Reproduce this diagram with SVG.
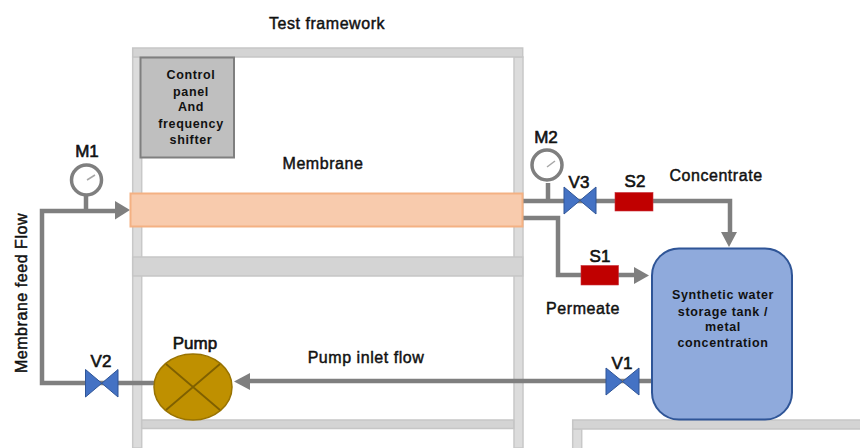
<svg xmlns="http://www.w3.org/2000/svg" width="860" height="448" viewBox="0 0 860 448">
<style>
text{font-family:"Liberation Sans",Arial,sans-serif;fill:#111;text-anchor:middle}
.lb{font-size:16px;letter-spacing:.55px;stroke:#111;stroke-width:.45px}
.tag{font-size:17px;stroke:#111;stroke-width:.6px}
.sm{font-size:12.500px;font-weight:bold;letter-spacing:.65px}
.fv{fill:#dcdcdc;stroke:#c8c8c8;stroke-width:1.5}
.fh{fill:#d4d4d4;stroke:#c6c6c6;stroke-width:1.5}
.pipe{fill:none;stroke:#7f7f7f;stroke-width:4.5}
.head{fill:#7f7f7f}
.valve{fill:#4472c4;stroke:#2f5597;stroke-width:1}
.sensor{fill:#c00000;stroke:#c8303a;stroke-width:.6}
.gauge{fill:#fff;stroke:#7f7f7f;stroke-width:3.500}
</style>
<g id="framework">
<rect class="fv" x="132.700" y="57" width="9" height="391"/>
<rect class="fv" x="514" y="57" width="9" height="391"/>
<rect class="fh" x="132.700" y="48" width="390" height="9"/>
<rect class="fh" x="132.700" y="257" width="390" height="19"/>
<rect class="fh" x="141.700" y="420" width="372" height="8.500"/>
<rect class="fv" x="572.700" y="429" width="9" height="20"/>
<rect class="fh" x="572.700" y="420" width="288" height="9"/>
<text x="327" y="29" class="lb">Test framework</text>
</g>
<g id="connectors">
<path class="pipe" d="M86 196V211"/>
<path class="pipe" d="M548 183V200"/>
<path class="pipe" d="M116 211H42V383H156"/>
<path class="pipe" d="M523 201H730V234"/>
<path class="pipe" d="M523 218H558V275H636"/>
<path class="pipe" d="M651 381H250"/>
<path class="head" d="M115 201L130 210L115 219.500Z"/>
<path class="head" d="M721 232H737L729 247Z"/>
<path class="head" d="M634 267V284L649 275.500Z"/>
<path class="head" d="M250 373V390L234 381.500Z"/>
</g>
<g id="control-panel">
<rect x="140.500" y="57.500" width="93.500" height="100" fill="#bfbfbf" stroke="#7f7f7f" stroke-width="2"/>
<text class="sm" x="191" y="79">Control</text>
<text class="sm" x="191" y="96">panel</text>
<text class="sm" x="191" y="111">And</text>
<text class="sm" x="191" y="128">frequency</text>
<text class="sm" x="191" y="144">shifter</text>
</g>
<g id="membrane">
<rect x="130.500" y="193.500" width="392" height="33" fill="#f8cbad" stroke="#f4b183" stroke-width="2"/>
<text x="323" y="169" class="lb">Membrane</text>
</g>
<g id="m1">
<circle class="gauge" cx="86.500" cy="180" r="15"/>
<path d="M87 180L95 175" stroke="#a6a6a6" stroke-width="1.500"/>
<text x="87" y="157" class="tag">M1</text>
</g>
<g id="m2">
<circle class="gauge" cx="547" cy="165" r="15"/>
<path d="M547 167L555 161" stroke="#a6a6a6" stroke-width="1.500"/>
<text x="546" y="143" class="tag">M2</text>
</g>
<g id="v3">
<path class="valve" d="M564 187L596 214V187L564 214Z"/>
<text x="579" y="188" class="tag">V3</text>
</g>
<g id="s2">
<rect class="sensor" x="615" y="192.500" width="38" height="18.500"/>
<text x="635" y="187" class="tag">S2</text>
</g>
<g id="s1">
<rect class="sensor" x="581" y="265.500" width="37.500" height="19.500"/>
<text x="600" y="262" class="tag">S1</text>
</g>
<g id="v2">
<path class="valve" d="M85.500 369.500L118 397V369.500L85.500 397Z"/>
<text x="101" y="367" class="tag">V2</text>
</g>
<g id="v1">
<path class="valve" d="M606 368L639 395V368L606 395Z"/>
<text x="622" y="369" class="tag">V1</text>
</g>
<g id="pump">
<ellipse cx="193" cy="387" rx="39" ry="33" fill="#bf9000" stroke="#997300" stroke-width="1.500"/>
<path d="M166 364L220 410M220 364L166 410" stroke="#7f6000" stroke-width="1.800" fill="none"/>
<text x="195" y="349" class="tag">Pump</text>
</g>
<g id="tank">
<rect x="652" y="248.500" width="140" height="171" rx="27" fill="#8faadc" stroke="#2f5597" stroke-width="2"/>
<text class="sm" x="723" y="299">Synthetic water</text>
<text class="sm" x="723" y="316">storage tank /</text>
<text class="sm" x="723" y="331">metal</text>
<text class="sm" x="723" y="347">concentration</text>
</g>
<g id="labels">
<text x="716" y="181" class="lb">Concentrate</text>
<text x="583" y="314" class="lb">Permeate</text>
<text x="366" y="363" class="lb">Pump inlet flow</text>
<text x="0" y="0" class="lb" transform="translate(27 293) rotate(-90)">Membrane feed Flow</text>
</g>
</svg>
